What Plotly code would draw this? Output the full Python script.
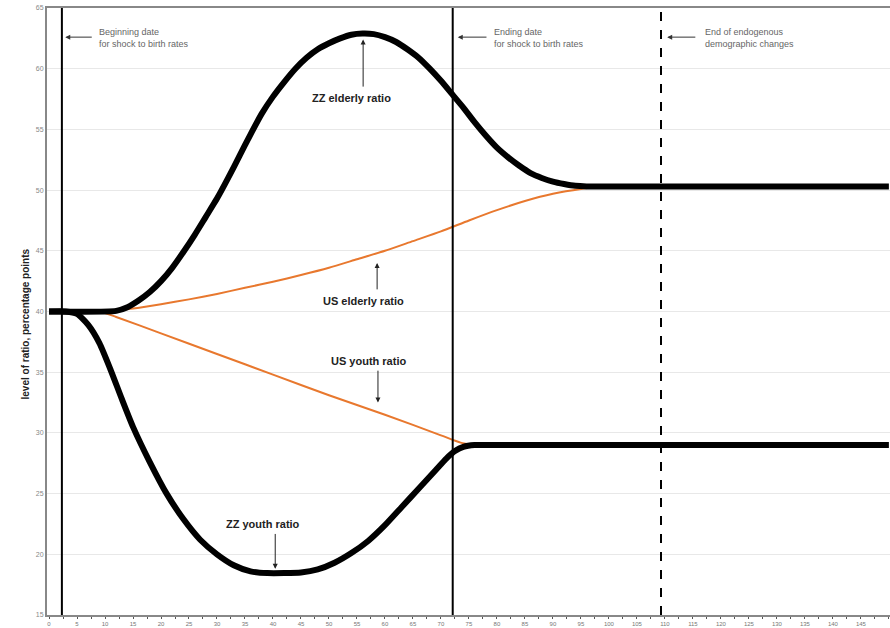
import plotly.graph_objects as go

# Time axis (periods) and ratio levels
zz_elderly_x = [0, 12, 14, 16, 18, 20, 22, 24, 26, 28, 30, 32, 34, 36, 38, 40, 42, 44, 46, 48, 50,
                52, 54, 56, 58, 60, 62, 64, 66, 68, 70, 72, 74, 76, 78, 80, 82, 84, 86, 88, 90,
                92, 94, 96, 120, 150]
zz_elderly_y = [40.0, 40.05, 40.35, 40.9, 41.6, 42.5, 43.6, 44.9, 46.3, 47.8, 49.3, 51.0, 52.8,
                54.6, 56.3, 57.7, 58.9, 60.0, 60.9, 61.6, 62.1, 62.5, 62.8, 62.9, 62.85, 62.6,
                62.2, 61.6, 60.9, 60.0, 59.0, 57.9, 56.8, 55.6, 54.5, 53.5, 52.7, 52.0, 51.4,
                51.0, 50.7, 50.5, 50.35, 50.3, 50.3, 50.3]

zz_youth_x = [0, 3, 5, 7, 9, 11, 13, 15, 18, 21, 24, 27, 30, 33, 36, 39, 42, 45, 48, 51, 54, 57,
              60, 63, 66, 69, 71, 72.5, 74, 76, 80, 150]
zz_youth_y = [40.0, 40.0, 39.8, 38.9, 37.4, 35.2, 32.8, 30.5, 27.6, 25.0, 22.9, 21.2, 20.0, 19.1,
              18.6, 18.45, 18.45, 18.5, 18.75, 19.3, 20.1, 21.1, 22.4, 23.9, 25.4, 26.9, 27.9,
              28.5, 28.85, 29.0, 29.0, 29.0]

us_elderly_x = [0, 9, 15, 20, 25, 30, 35, 40, 45, 50, 55, 60, 65, 70, 75, 80, 85, 90, 95, 98]
us_elderly_y = [40.0, 40.0, 40.25, 40.6, 41.0, 41.45, 41.95, 42.45, 43.0, 43.6, 44.3, 45.0,
                45.8, 46.6, 47.5, 48.35, 49.1, 49.7, 50.1, 50.25]

us_youth_x = [0, 9, 12, 20, 30, 40, 50, 60, 70, 73.5, 76]
us_youth_y = [40.0, 40.0, 39.55, 38.2, 36.5, 34.8, 33.1, 31.5, 29.8, 29.2, 29.0]

# Event dates
begin_shock = 2.3
end_shock = 72.1
end_endog = 109.3

BLACK = '#000000'
ORANGE = '#E8782E'
FONT = 'Arial, Liberation Sans, sans-serif'

fig = go.Figure()

# US lines underneath
for xs, ys in [(us_elderly_x, us_elderly_y), (us_youth_x, us_youth_y)]:
    fig.add_trace(go.Scatter(x=xs, y=ys, mode='lines',
                             line=dict(color=ORANGE, width=2, shape='spline', smoothing=0.6),
                             showlegend=False, hoverinfo='skip'))

# ZZ lines on top
for xs, ys in [(zz_elderly_x, zz_elderly_y), (zz_youth_x, zz_youth_y)]:
    fig.add_trace(go.Scatter(x=xs, y=ys, mode='lines',
                             line=dict(color=BLACK, width=6, shape='spline', smoothing=0.6),
                             showlegend=False, hoverinfo='skip'))

# vertical event lines
fig.add_vline(x=begin_shock, line=dict(color=BLACK, width=2))
fig.add_vline(x=end_shock, line=dict(color=BLACK, width=2))
fig.add_vline(x=end_endog, line=dict(color=BLACK, width=2, dash='dash'))

# gray event notes with left-pointing arrows
notes = [
    (begin_shock + 0.6, 7.9, 8.6, 'Beginning date<br>for shock to birth rates'),
    (end_shock + 0.9, 78.4, 79.1, 'Ending date<br>for shock to birth rates'),
    (end_endog + 1.1, 115.7, 116.8, 'End of endogenous<br>demographic changes'),
]
for head_x, tail_x, text_x, txt in notes:
    fig.add_annotation(x=head_x, y=62.6, ax=tail_x, ay=62.6, axref='x', ayref='y',
                       text='', showarrow=True, arrowhead=2, arrowsize=1,
                       arrowwidth=1, arrowcolor='#333')
    fig.add_annotation(x=text_x, y=62.55, text=txt, showarrow=False, xanchor='left',
                       align='left', font=dict(family=FONT, size=9, color='#666'))

# bold series labels with arrows
labels = [
    ('ZZ elderly ratio', 54.1, 57.6, 56.1, 58.4, 62.4),
    ('US elderly ratio', 56.1, 40.9, 58.6, 41.7, 44.0),
    ('US youth ratio', 57.0, 35.9, 58.75, 35.25, 32.5),
    ('ZZ youth ratio', 38.2, 22.5, 40.4, 21.8, 18.8),
]
for txt, lx, ly, arx, ary_tail, ary_head in labels:
    fig.add_annotation(x=lx, y=ly, text='<b>' + txt + '</b>', showarrow=False,
                       font=dict(family=FONT, size=11, color='#222'))
    fig.add_annotation(x=arx, y=ary_head, ax=arx, ay=ary_tail, axref='x', ayref='y',
                       text='', showarrow=True, arrowhead=2, arrowsize=1,
                       arrowwidth=1, arrowcolor='#222')

# y-axis title
fig.add_annotation(x=-0.034, y=0.48, xref='paper', yref='paper', textangle=-90,
                   text='<b>level of ratio, percentage points</b>', showarrow=False,
                   font=dict(family=FONT, size=10, color='#222'))

fig.update_layout(
    width=890, height=628,
    margin=dict(l=47, r=0, t=8, b=13, autoexpand=False),
    plot_bgcolor='white', paper_bgcolor='white',
    font=dict(family=FONT),
    xaxis=dict(range=[-0.36, 150.2], dtick=5, tick0=0, showgrid=False, zeroline=False,
               automargin=False,
               showline=True, linecolor='#888', linewidth=2, mirror=True,
               ticks='outside', ticklen=2, tickcolor='#555',
               minor=dict(dtick=2.5, ticks='outside', ticklen=2, tickcolor='#555'),
               tickfont=dict(size=6, color='#777')),
    yaxis=dict(range=[15, 65], dtick=5, showgrid=True, gridcolor='#e8e8e8', zeroline=False,
               automargin=False,
               showline=True, linecolor='#888', linewidth=2,
               ticks='', tickfont=dict(size=7, color='#888')),
)

# page has default body margins; remove them so the 890x628 figure fills the window
fig.write_html("out.html", config={'displayModeBar': False},
               post_script="document.body.style.margin='0px';")
